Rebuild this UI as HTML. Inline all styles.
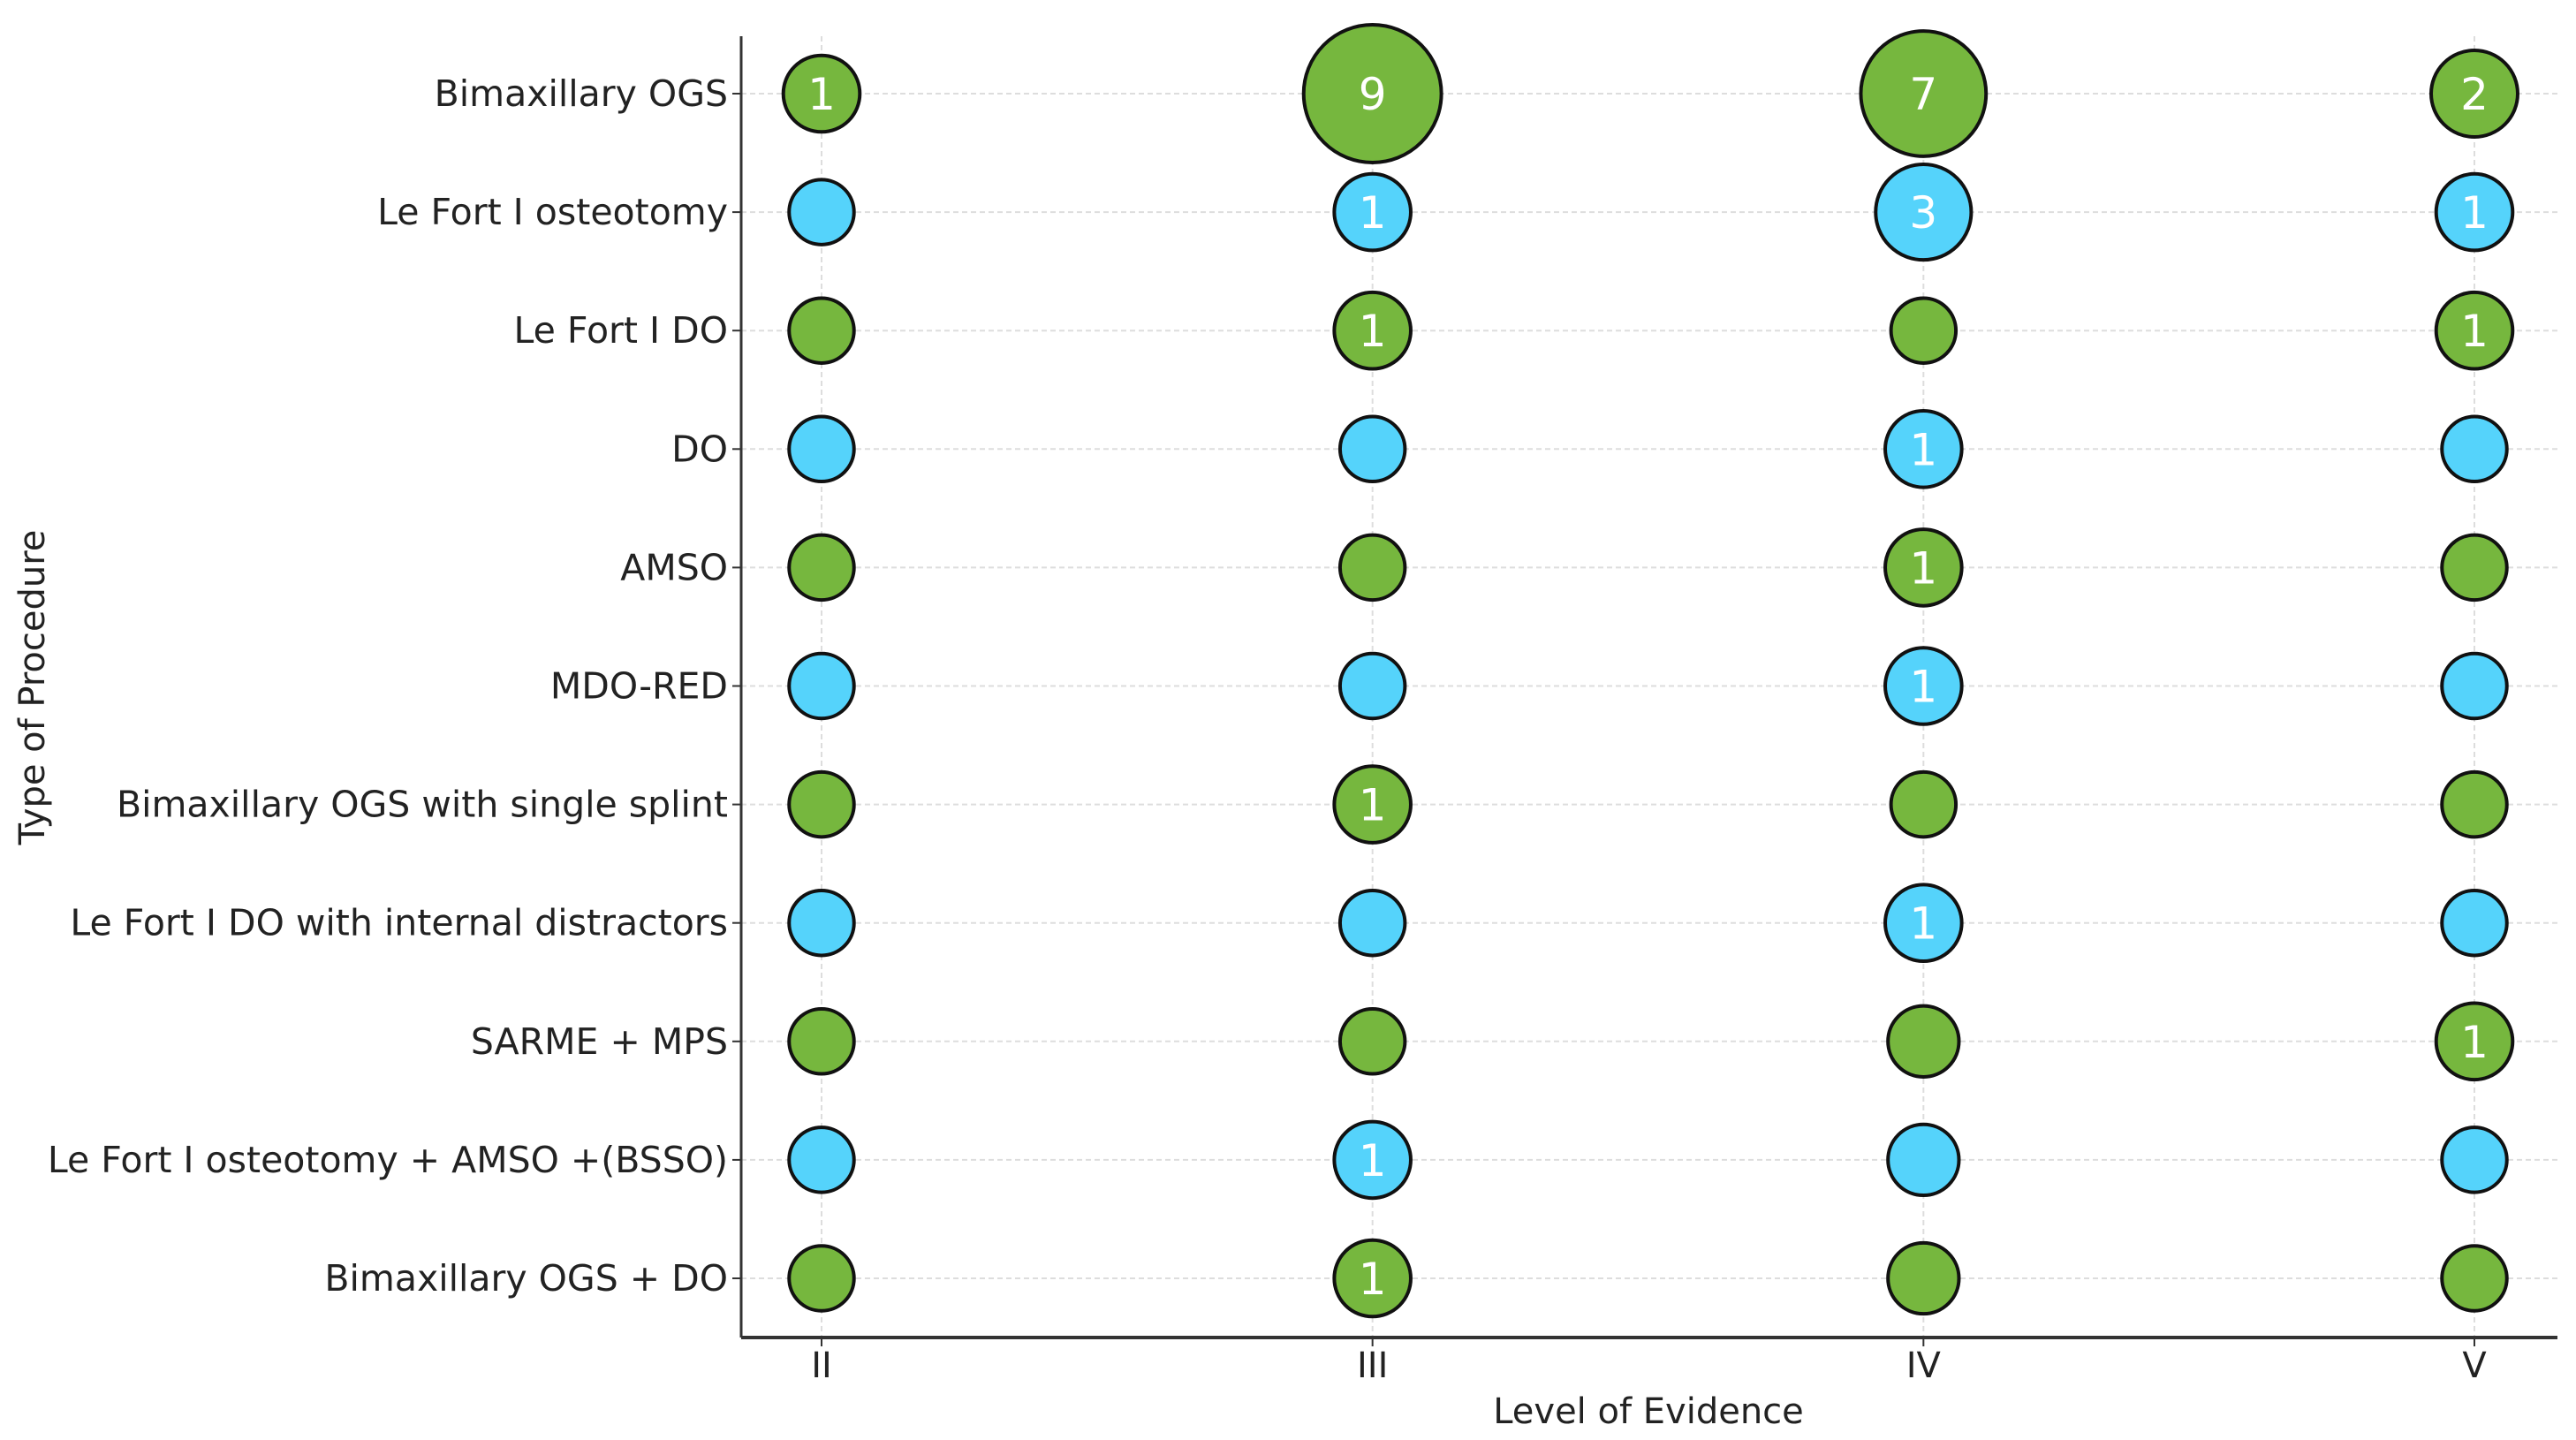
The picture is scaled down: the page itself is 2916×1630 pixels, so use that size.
<!DOCTYPE html>
<html><head><meta charset="utf-8">
<style>
html,body{margin:0;padding:0;background:#fff;}
svg{display:block;font-family:"DejaVu Sans","Liberation Sans",sans-serif;}
</style></head>
<body>
<svg id="chart" width="2916" height="1630" viewBox="0 0 2916 1630"></svg>
<script>
const categories = ["Bimaxillary OGS","Le Fort I osteotomy","Le Fort I DO","DO","AMSO","MDO-RED","Bimaxillary OGS with single splint","Le Fort I DO with internal distractors","SARME + MPS","Le Fort I osteotomy + AMSO +(BSSO)","Bimaxillary OGS + DO"];
const levels = ["II","III","IV","V"];
const valuesII  = [1,0,0,0,0,0,0,0,0,0,0];
const valuesIII = [9,1,1,0,0,0,1,0,0,1,1];
const valuesIV  = [7,3,0,1,1,1,0,1,0.5,0.5,0.5];
const valuesV   = [2,1,1,0,0,0,0,0,1,0,0];
const series = [valuesII, valuesIII, valuesIV, valuesV];

const NS="http://www.w3.org/2000/svg";
const svg=document.getElementById('chart');
function mk(tag,attrs,parent){const e=document.createElementNS(NS,tag);for(const k in attrs)e.setAttribute(k,attrs[k]);(parent||svg).appendChild(e);return e;}
const L=839,R=2895,T=41,B=1514;
const xScale=i=>930+i*(2801-930)/(levels.length-1);
const yScale=j=>106+j*(1447-106)/(categories.length-1);
const radius=v=>Math.sqrt(5400+2100*v)/2;

categories.forEach((c,j)=>{
  const g=mk('line',{x1:L,x2:R,y1:yScale(j),y2:yScale(j),stroke:'#ddd','stroke-width':2,'stroke-dasharray':'6,4'});
  
  
  const t=mk('line',{x1:L-10,x2:L,y1:yScale(j),y2:yScale(j),stroke:'#333','stroke-width':2});
  
  
  const lb=mk('text',{x:824,y:yScale(j)+14,'text-anchor':'end','font-size':41,fill:'#222'});
  lb.textContent=c;
  
  
});
levels.forEach((l,i)=>{
  const g=mk('line',{x1:xScale(i),x2:xScale(i),y1:T,y2:B,stroke:'#ddd','stroke-width':2,'stroke-dasharray':'6,4'});
  
  
  const t=mk('line',{x1:xScale(i),x2:xScale(i),y1:B,y2:B+10,stroke:'#333','stroke-width':2});
  
  
  const lb=mk('text',{x:xScale(i),y:1559,'text-anchor':'middle','font-size':40,fill:'#222'});
  lb.textContent=l;
  
  
});
const ya=mk('line',{x1:L,x2:L,y1:T,y2:B,stroke:'#333','stroke-width':3});


const xa=mk('line',{x1:L,x2:R,y1:B,y2:B,stroke:'#333','stroke-width':4});



series.forEach((vals,i)=>{
  vals.forEach((v,j)=>{
    const fill = j%2===0 ? '#76b73e' : '#55d3fb';
    const c=mk('circle',{cx:xScale(i),cy:yScale(j),r:radius(v),fill:fill,stroke:'#111','stroke-width':4});
    
    
    if(v>=1){
      const t=mk('text',{x:xScale(i),y:yScale(j)+18,'text-anchor':'middle','font-size':50,fill:'#fff'});
      t.textContent=String(v);
      
      
    }
  });
});

const xt=mk('text',{x:1866,y:1611,'text-anchor':'middle','font-size':40,fill:'#222'});
xt.textContent='Level of Evidence';


const yt=mk('text',{x:0,y:0,'text-anchor':'middle','font-size':40,fill:'#222',transform:'translate(50,778) rotate(-90)'});
yt.textContent='Type of Procedure';


</script>
</body></html>
